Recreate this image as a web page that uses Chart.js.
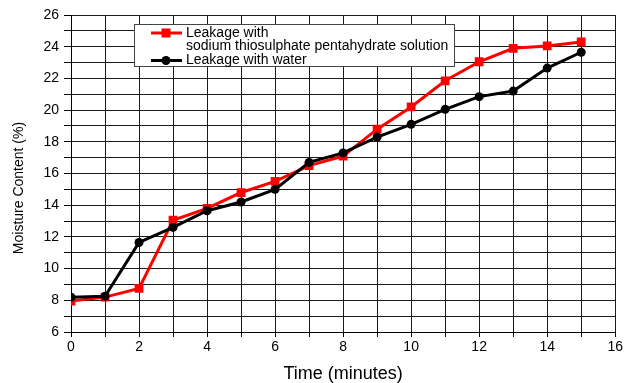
<!DOCTYPE html>
<html>
<head>
<meta charset="utf-8">
<script src="https://cdn.jsdelivr.net/npm/chart.js@4/dist/chart.umd.min.js"></script>
<style>
  html, body { margin: 0; padding: 0; background: #fff; }
  #wrap { width: 625px; height: 383px; position: relative; }
</style>
</head>
<body>
<div id="wrap"><canvas id="c" width="625" height="383"></canvas></div>
<script>
// ---- data ----
const times = [0, 1, 2, 3, 4, 5, 6, 7, 8, 9, 10, 11, 12, 13, 14, 15];
const sodiumSeries = [7.95, 8.2, 8.75, 13.05, 13.8, 14.8, 15.5, 16.5, 17.1, 18.8, 20.2, 21.85, 23.05, 23.9, 24.05, 24.3];
const waterSeries  = [8.2, 8.25, 11.65, 12.6, 13.65, 14.2, 15.0, 16.7, 17.3, 18.3, 19.1, 20.05, 20.85, 21.2, 22.65, 23.65];
const legendLabels = ["Leakage with", "sodium thiosulphate pentahydrate solution", "Leakage with water"];
const xTitle = "Time (minutes)";
const yTitle = "Moisture Content (%)";
const xRange = [0, 16];
const yRange = [6, 26];

const FONT = '"Liberation Sans", Arial, sans-serif';
const toPts = (ys) => times.map((t, i) => ({ x: t, y: ys[i] }));
const evenLabel = (v) => (Math.round(v) % 2 === 0 ? String(Math.round(v)) : '');

const extras = {
  id: 'extras',
  afterDraw(chart) {
    const ctx = chart.ctx;
    ctx.save();
    // y-axis title
    ctx.translate(19.5, 188);
    ctx.rotate(-Math.PI / 2);
    ctx.font = '14px ' + FONT;
    ctx.fillStyle = '#000';
    ctx.textAlign = 'center';
    ctx.textBaseline = 'middle';
    ctx.fillText(yTitle, 0, 0);
    ctx.restore();

    // legend box
    ctx.save();
    const bx = 134.5, by = 24.5, bw = 320, bh = 42;
    ctx.fillStyle = '#fff';
    ctx.fillRect(bx, by, bw, bh);
    ctx.strokeStyle = '#444';
    ctx.lineWidth = 1;
    ctx.strokeRect(bx, by, bw, bh);

    // red entry
    ctx.strokeStyle = '#ff0000';
    ctx.lineWidth = 3;
    ctx.beginPath(); ctx.moveTo(151, 33); ctx.lineTo(182, 33); ctx.stroke();
    ctx.fillStyle = '#ff0000';
    ctx.fillRect(166 - 4.5, 33 - 4.5, 9, 9);
    // black entry
    ctx.strokeStyle = '#000';
    ctx.beginPath(); ctx.moveTo(151, 60.5); ctx.lineTo(182, 60.5); ctx.stroke();
    ctx.fillStyle = '#000';
    ctx.beginPath(); ctx.arc(166, 60.5, 4.5, 0, Math.PI * 2); ctx.fill();

    ctx.font = '14px ' + FONT;
    ctx.fillStyle = '#000';
    ctx.textAlign = 'left';
    ctx.textBaseline = 'middle';
    ctx.fillText(legendLabels[0], 186, 33);
    ctx.fillText(legendLabels[1], 186, 46.5);
    ctx.fillText(legendLabels[2], 186, 60.5);
    ctx.restore();
  }
};

new Chart(document.getElementById('c'), {
  type: 'line',
  data: {
    datasets: [
      {
        label: legendLabels[2],
        data: toPts(waterSeries),
        borderColor: '#000',
        backgroundColor: '#000',
        borderWidth: 3,
        pointStyle: 'circle',
        pointRadius: 4.5,
        pointBorderWidth: 0,
        order: 0,
        tension: 0
      },
      {
        label: legendLabels[0] + ' ' + legendLabels[1],
        data: toPts(sodiumSeries),
        borderColor: '#ff0000',
        backgroundColor: '#ff0000',
        borderWidth: 3,
        pointStyle: 'rect',
        pointRadius: 6.2,
        pointBorderWidth: 0,
        order: 1,
        tension: 0
      }
    ]
  },
  options: {
    responsive: false,
    animation: false,
    devicePixelRatio: 1,
    layout: { padding: { left: 0, right: 9, top: 15, bottom: 0 } },
    plugins: { legend: { display: false }, tooltip: { enabled: false } },
    scales: {
      x: {
        type: 'linear',
        min: xRange[0], max: xRange[1],
        afterFit: (s) => { s.height = 51; },
        ticks: {
          stepSize: 1, autoSkip: false, maxRotation: 0, padding: 2,
          color: '#000', font: { family: FONT, size: 14 },
          callback: evenLabel
        },
        grid: { color: '#1a1a1a', lineWidth: 1, tickLength: 5, tickColor: '#000' },
        border: { color: '#000', width: 1 },
        title: {
          display: true, text: xTitle, color: '#000',
          font: { family: FONT, size: 18, lineHeight: 1 },
          padding: { top: 0, bottom: 0 }
        }
      },
      y: {
        type: 'linear',
        min: yRange[0], max: yRange[1],
        afterFit: (s) => { s.width = 71; },
        ticks: {
          stepSize: 1, autoSkip: false, padding: 5,
          color: '#000', font: { family: FONT, size: 14 },
          callback: evenLabel
        },
        grid: { color: '#1a1a1a', lineWidth: 1, tickLength: 7, tickColor: '#000' },
        border: { color: '#000', width: 1 }
      }
    }
  },
  plugins: [extras]
});
</script>
</body>
</html>
